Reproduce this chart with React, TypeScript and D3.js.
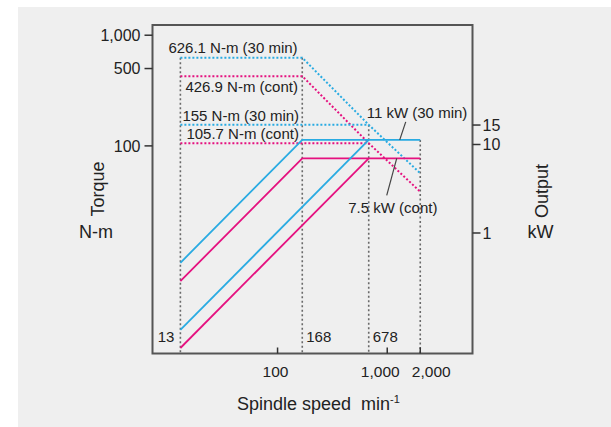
import React from "react";
import * as d3 from "d3";

// Spindle speed (min^-1) axis
const speedTicks = [100, 1000, 2000];
const speedTickLabels = ["100", "1,000", "2,000"];
const speedMarks = [13, 168, 678, 2000];
const speedMarkLabels = ["13", "168", "678"];

// Torque (N-m) axis
const torqueTicks = [1000, 500, 100];
const torqueTickLabels = ["1,000", "500", "100"];

// Output (kW) axis
const outputTicks = [15, 10, 1];
const outputTickLabels = ["15", "10", "1"];

// Torque curves [speed, N-m]
const torque30min: [number, number][] = [[13, 626.1], [168, 626.1], [678, 155], [2000, 56.5]];
const torqueCont: [number, number][] = [[13, 426.9], [168, 426.9], [678, 105.7], [2000, 38.5]];
const torque30minHigh: [number, number][] = [[13, 155], [678, 155]];
const torqueContHigh: [number, number][] = [[13, 105.7], [678, 105.7]];

// Output curves [speed, kW]
const output30min: [number, number][] = [[13, 0.85], [168, 11], [2000, 11]];
const outputCont: [number, number][] = [[13, 0.58], [168, 7.5], [2000, 7.5]];
const output30minHigh: [number, number][] = [[13, 0.21], [678, 11]];
const outputContHigh: [number, number][] = [[13, 0.144], [678, 7.5]];

const BLUE = "#29abe2";
const PINK = "#e5117f";
const GRAY = "#6a6a6a";
const INK = "#222";
const FONT = "'Liberation Sans', Arial, Helvetica, sans-serif";

const W = 611;
const H = 427;
const plot = { left: 152.5, right: 472.5, top: 25, bottom: 353.5 };

export default function App() {
  const x = d3.scaleLog().domain([7.24, 5990]).range([plot.left, plot.right]);
  const yT = d3.scaleLog().domain([1.33, 1237]).range([plot.bottom, plot.top]);
  const yP = d3.scaleLog().domain([0.1284, 120.6]).range([plot.bottom, plot.top]);
  // right-hand scale tick placement (log segments between labelled values)
  const yPAxis = d3
    .scaleLinear()
    .domain([0, 1, Math.log10(15)])
    .range([yP(10) + 88.5, yP(10), yP(15)]);

  const lineT = d3.line<[number, number]>().x((d) => x(d[0])).y((d) => yT(d[1]));
  const lineP = d3.line<[number, number]>().x((d) => x(d[0])).y((d) => yP(d[1]));

  const torqueSets = [torque30min, torqueCont, torque30minHigh, torqueContHigh];
  const outputSets = [output30min, outputCont, output30minHigh, outputContHigh];

  // vertical guide from the highest curve vertex at each marked speed
  const guideTop = (s: number) => {
    const ys: number[] = [];
    torqueSets.forEach((c) => c.forEach((p) => p[0] === s && ys.push(yT(p[1]))));
    outputSets.forEach((c) => c.forEach((p) => p[0] === s && ys.push(yP(p[1]))));
    return Math.min(...ys);
  };

  const dotted = { strokeWidth: 2, strokeDasharray: "2 2", fill: "none" };
  const solid = { strokeWidth: 1.8, fill: "none" };
  const speedLabelShift = [-2, -7, 11];

  return (
    <svg
      width={W}
      height={H}
      style={{ position: "absolute", left: 0, top: 0 }}
      fontFamily={FONT}
    >
      <rect x={0} y={0} width={W} height={H} fill="#fff" />
      <rect x={18} y={7} width={W - 18} height={H - 7} fill="#efefef" />

      {/* speed guides */}
      {speedMarks.map((s) => (
        <line
          key={s}
          x1={x(s)}
          x2={x(s)}
          y1={guideTop(s)}
          y2={plot.bottom}
          stroke={GRAY}
          strokeWidth={1.6}
          strokeDasharray="2 2.5"
        />
      ))}

      {/* torque curves */}
      <path d={lineT(torque30min)!} stroke={BLUE} {...dotted} />
      <path d={lineT(torqueCont)!} stroke={PINK} {...dotted} />
      <path d={lineT(torque30minHigh)!} stroke={BLUE} {...dotted} />
      <path d={lineT(torqueContHigh)!} stroke={PINK} {...dotted} />

      {/* output curves */}
      <path d={lineP(output30min)!} stroke={BLUE} {...solid} />
      <path d={lineP(outputCont)!} stroke={PINK} {...solid} />
      <path d={lineP(output30minHigh)!} stroke={BLUE} {...solid} />
      <path d={lineP(outputContHigh)!} stroke={PINK} {...solid} />

      {/* frame */}
      <rect
        x={plot.left}
        y={plot.top}
        width={plot.right - plot.left}
        height={plot.bottom - plot.top}
        fill="none"
        stroke="#555"
        strokeWidth={2}
      />

      {/* left axis */}
      {torqueTicks.map((t, i) => (
        <g key={t}>
          <line x1={plot.left - 8} x2={plot.left} y1={yT(t)} y2={yT(t)} stroke="#333" strokeWidth={1.5} />
          <text x={plot.left - 12} y={yT(t)} dy="0.36em" textAnchor="end" fontSize={16} fill={INK}>
            {torqueTickLabels[i]}
          </text>
        </g>
      ))}

      {/* right axis */}
      {outputTicks.map((p, i) => (
        <g key={p}>
          <line
            x1={plot.right}
            x2={plot.right + 8}
            y1={yPAxis(Math.log10(p))}
            y2={yPAxis(Math.log10(p))}
            stroke="#333"
            strokeWidth={1.5}
          />
          <text x={plot.right + 10} y={yPAxis(Math.log10(p))} dy="0.36em" fontSize={16} fill={INK}>
            {outputTickLabels[i]}
          </text>
        </g>
      ))}

      {/* bottom axis */}
      {speedTicks.map((s, i) => (
        <g key={s}>
          <line x1={x(s)} x2={x(s)} y1={plot.bottom - 6} y2={plot.bottom} stroke="#333" strokeWidth={1.5} />
          <text
            x={x(s) + speedLabelShift[i]}
            y={plot.bottom + 23}
            textAnchor="middle"
            fontSize={15.5}
            fill={INK}
          >
            {speedTickLabels[i]}
          </text>
        </g>
      ))}

      {/* speed values along the bottom */}
      <text x={x(13) - 6} y={plot.bottom - 12} textAnchor="end" fontSize={15} fill={INK}>
        {speedMarkLabels[0]}
      </text>
      <text x={x(168) + 4} y={plot.bottom - 12} fontSize={15} fill={INK}>
        {speedMarkLabels[1]}
      </text>
      <text x={x(678) + 4} y={plot.bottom - 12} fontSize={15} fill={INK}>
        {speedMarkLabels[2]}
      </text>

      {/* torque annotations */}
      <text x={x(13) - 12} y={yT(626.1) - 5} fontSize={15} fill={INK}>
        626.1 N-m (30 min)
      </text>
      <text x={x(13) + 5} y={yT(426.9) + 16} fontSize={15} fill={INK}>
        426.9 N-m (cont)
      </text>
      <text x={x(13) + 2} y={yT(155) - 4} fontSize={15} fill={INK}>
        155 N-m (30 min)
      </text>
      <text x={x(13) + 6} y={yT(105.7) - 4} fontSize={15} fill={INK}>
        105.7 N-m (cont)
      </text>

      {/* output annotations */}
      <text x={x(678) - 2} y={yP(11) - 22} fontSize={15} fill={INK}>
        11 kW (30 min)
      </text>
      <line
        x1={x(678) + 37}
        y1={yP(11) - 18}
        x2={x(678) + 31}
        y2={yP(11)}
        stroke="#444"
        strokeWidth={1.2}
      />
      <text x={x(678) - 20.5} y={yP(7.5) + 55} fontSize={15} fill={INK}>
        7.5 kW (cont)
      </text>
      <line
        x1={x(678) + 18}
        y1={yP(7.5) + 37}
        x2={x(678) + 28}
        y2={yP(7.5)}
        stroke="#444"
        strokeWidth={1.2}
      />

      {/* axis titles */}
      <text
        transform={`translate(${104}, ${189}) rotate(-90)`}
        textAnchor="middle"
        fontSize={18}
        fill={INK}
      >
        Torque
      </text>
      <text x={96} y={238} textAnchor="middle" fontSize={18} fill={INK}>
        N-m
      </text>
      <text
        transform={`translate(${548}, ${191}) rotate(-90)`}
        textAnchor="middle"
        fontSize={18}
        fill={INK}
      >
        Output
      </text>
      <text x={540.5} y={238} textAnchor="middle" fontSize={18} fill={INK}>
        kW
      </text>
      <text x={237} y={410} fontSize={18} fill={INK}>
        Spindle speed
        <tspan dx={10}>min</tspan>
        <tspan dy={-7} fontSize={11}>-1</tspan>
      </text>
    </svg>
  );
}
